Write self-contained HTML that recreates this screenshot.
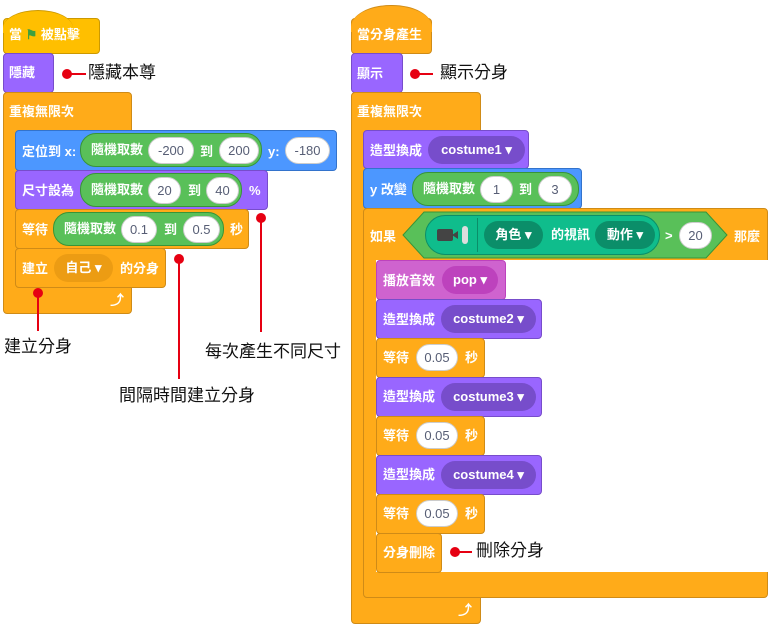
<!DOCTYPE html>
<html><head><meta charset="utf-8"><style>
body{margin:0;width:771px;height:626px;background:#fff;position:relative;overflow:hidden;font-family:"Liberation Sans","Noto Sans CJK TC",sans-serif}
.b{position:absolute;box-sizing:border-box;border-radius:4px}
.t{position:absolute;color:#fff;font-weight:bold;font-size:13px;white-space:nowrap;line-height:16px}
.y{background:#FFBF00;border:1px solid #CC9900}
.p{background:#9966FF;border:1px solid #774DCB}
.o{background:#FFAB19;border:1px solid #CF8B17}
.bl{background:#4C97FF;border:1px solid #3373CC}
.pk{background:#CF63CF;border:1px solid #BD42BD}
.pill{position:absolute;box-sizing:border-box;border-radius:16px;color:#fff;font-weight:bold;font-size:13px;white-space:nowrap;text-align:center;line-height:26px}
.g{background:#59C059;border:1px solid #389438}
.w{background:#fff;color:#575E75;border:1px solid #ccc;font-weight:normal;font-size:13px;line-height:25px;border-radius:14px}
.dot{position:absolute;width:10px;height:10px;border-radius:5px;background:#e60012}
.ln{position:absolute;background:#e60012}
.lab{position:absolute;font-size:17px;color:#111;white-space:nowrap;line-height:20px}
</style></head><body>

<!-- LEFT SCRIPT -->
<div class="b y" style="left:3px;top:18px;width:97px;height:36px"></div>
<div style="position:absolute;left:3px;top:10px;width:70px;height:22px;border-radius:35px 35px 0 0/18px 18px 0 0;background:#FFBF00;border-top:1px solid #CC9900"></div>
<div class="t" style="left:9px;top:27px">當 <span style="color:#3fa03f">⚑</span> 被點擊</div>

<div class="b p" style="left:3px;top:53px;width:51px;height:40px"></div>
<div class="t" style="left:9px;top:65px">隱藏</div>

<div class="b o" style="left:3px;top:92px;width:129px;height:222px"></div>
<div class="t" style="left:9px;top:104px">重複無限次</div>
<div class="t" style="left:110px;top:292px;font-size:14px">⤴</div>

<div class="b bl" style="left:15px;top:130px;width:322px;height:41px"></div>
<div class="t" style="left:22px;top:144px">定位到 x:</div>
<div class="pill g" style="left:80px;top:133px;width:182px;height:34px;line-height:32px;text-align:left;padding-left:10px">隨機取數</div>
<div class="pill w" style="left:148px;top:137px;width:46px;height:27px">-200</div>
<div class="t" style="left:200px;top:144px">到</div>
<div class="pill w" style="left:219px;top:137px;width:40px;height:27px">200</div>
<div class="t" style="left:268px;top:144px">y:</div>
<div class="pill w" style="left:285px;top:137px;width:45px;height:27px">-180</div>

<div class="b p" style="left:15px;top:170px;width:253px;height:40px"></div>
<div class="t" style="left:22px;top:183px">尺寸設為</div>
<div class="pill g" style="left:80px;top:173px;width:162px;height:34px;line-height:32px;text-align:left;padding-left:10px">隨機取數</div>
<div class="pill w" style="left:148px;top:177px;width:33px;height:27px">20</div>
<div class="t" style="left:188px;top:183px">到</div>
<div class="pill w" style="left:206px;top:177px;width:33px;height:27px">40</div>
<div class="t" style="left:249px;top:183px">%</div>

<div class="b o" style="left:15px;top:209px;width:234px;height:40px"></div>
<div class="t" style="left:22px;top:222px">等待</div>
<div class="pill g" style="left:53px;top:212px;width:171px;height:34px;line-height:32px;text-align:left;padding-left:10px">隨機取數</div>
<div class="pill w" style="left:121px;top:216px;width:36px;height:27px">0.1</div>
<div class="t" style="left:164px;top:222px">到</div>
<div class="pill w" style="left:183px;top:216px;width:37px;height:27px">0.5</div>
<div class="t" style="left:230px;top:222px">秒</div>

<div class="b o" style="left:15px;top:248px;width:151px;height:40px"></div>
<div class="t" style="left:22px;top:261px">建立</div>
<div class="pill" style="left:54px;top:254px;width:59px;height:28px;background:#EC9C13;line-height:28px">自己 ▾</div>
<div class="t" style="left:120px;top:261px">的分身</div>

<!-- left annotations -->
<div class="dot" style="left:62px;top:69px"></div><div class="ln" style="left:67px;top:73px;width:19px;height:2px"></div>
<div class="lab" style="left:88px;top:63px">隱藏本尊</div>
<div class="dot" style="left:33px;top:288px"></div><div class="ln" style="left:37px;top:293px;width:2px;height:38px"></div>
<div class="lab" style="left:4px;top:337px">建立分身</div>
<div class="dot" style="left:174px;top:254px"></div><div class="ln" style="left:178px;top:259px;width:2px;height:120px"></div>
<div class="lab" style="left:119px;top:386px">間隔時間建立分身</div>
<div class="dot" style="left:256px;top:213px"></div><div class="ln" style="left:260px;top:218px;width:2px;height:114px"></div>
<div class="lab" style="left:205px;top:342px">每次產生不同尺寸</div>

<!-- RIGHT SCRIPT -->
<div class="b o" style="left:351px;top:18px;width:81px;height:36px"></div>
<div style="position:absolute;left:351px;top:5px;width:81px;height:26px;border-radius:40px 40px 0 0/22px 22px 0 0;background:#FFAB19;border-top:1px solid #CF8B17"></div>
<div class="t" style="left:357px;top:27px">當分身產生</div>

<div class="b p" style="left:351px;top:53px;width:52px;height:40px"></div>
<div class="t" style="left:357px;top:66px">顯示</div>
<div class="dot" style="left:410px;top:69px"></div><div class="ln" style="left:415px;top:73px;width:18px;height:2px"></div>
<div class="lab" style="left:440px;top:63px">顯示分身</div>

<div class="b o" style="left:351px;top:92px;width:130px;height:532px"></div>
<div class="t" style="left:357px;top:104px">重複無限次</div>
<div class="t" style="left:458px;top:602px;font-size:14px">⤴</div>

<div class="b p" style="left:363px;top:130px;width:166px;height:39px"></div>
<div class="t" style="left:370px;top:143px">造型換成</div>
<div class="pill" style="left:428px;top:136px;width:97px;height:28px;background:#774DCB;line-height:28px">costume1 ▾</div>

<div class="b bl" style="left:363px;top:168px;width:219px;height:41px"></div>
<div class="t" style="left:370px;top:182px">y 改變</div>
<div class="pill g" style="left:412px;top:172px;width:167px;height:34px;line-height:32px;text-align:left;padding-left:10px">隨機取數</div>
<div class="pill w" style="left:480px;top:176px;width:33px;height:27px">1</div>
<div class="t" style="left:519px;top:182px">到</div>
<div class="pill w" style="left:538px;top:176px;width:34px;height:27px">3</div>

<div class="b o" style="left:363px;top:208px;width:405px;height:390px"></div>
<div style="position:absolute;left:376px;top:260px;width:392px;height:312px;background:#fff"></div>
<div class="t" style="left:370px;top:229px">如果</div>
<svg style="position:absolute;left:402px;top:211px" width="326" height="48"><polygon points="22,1 304,1 325,24 304,47 22,47 1,24" fill="#59C059" stroke="#389438"/></svg>
<div class="pill" style="left:425px;top:215px;width:235px;height:40px;border-radius:20px;background:#0FBD8C;border:1px solid #0B8E69"></div>
<div style="position:absolute;left:437px;top:229px;width:16px;height:12px;background:#444;border-radius:2px"></div>
<div style="position:absolute;left:452px;top:231px;width:0;height:0;border-top:4px solid transparent;border-bottom:4px solid transparent;border-right:6px solid #444"></div>
<div style="position:absolute;left:462px;top:226px;width:6px;height:18px;background:#ddd;border-radius:3px"></div>
<div style="position:absolute;left:477px;top:218px;width:1px;height:34px;background:#0B8E69"></div>
<div class="pill" style="left:484px;top:221px;width:59px;height:28px;background:#0B8E69;line-height:28px">角色 ▾</div>
<div class="t" style="left:551px;top:227px">的視訊</div>
<div class="pill" style="left:595px;top:221px;width:60px;height:28px;background:#0B8E69;line-height:28px">動作 ▾</div>
<div class="t" style="left:665px;top:228px">&gt;</div>
<div class="pill w" style="left:679px;top:222px;width:33px;height:27px">20</div>
<div class="t" style="left:734px;top:229px">那麼</div>

<div class="b pk" style="left:376px;top:260px;width:130px;height:40px"></div>
<div class="t" style="left:383px;top:273px">播放音效</div>
<div class="pill" style="left:442px;top:266px;width:56px;height:28px;background:#BD42BD;line-height:28px">pop ▾</div>

<div class="b p" style="left:376px;top:299px;width:166px;height:40px"></div>
<div class="t" style="left:383px;top:312px">造型換成</div>
<div class="pill" style="left:441px;top:305px;width:95px;height:28px;background:#774DCB;line-height:28px">costume2 ▾</div>
<div class="b o" style="left:376px;top:338px;width:109px;height:40px"></div>
<div class="t" style="left:383px;top:350px">等待</div>
<div class="pill w" style="left:416px;top:344px;width:42px;height:27px">0.05</div>
<div class="t" style="left:465px;top:350px">秒</div>

<div class="b p" style="left:376px;top:377px;width:166px;height:40px"></div>
<div class="t" style="left:383px;top:389px">造型換成</div>
<div class="pill" style="left:441px;top:383px;width:95px;height:28px;background:#774DCB;line-height:28px">costume3 ▾</div>
<div class="b o" style="left:376px;top:416px;width:109px;height:40px"></div>
<div class="t" style="left:383px;top:428px">等待</div>
<div class="pill w" style="left:416px;top:422px;width:42px;height:27px">0.05</div>
<div class="t" style="left:465px;top:428px">秒</div>

<div class="b p" style="left:376px;top:455px;width:166px;height:40px"></div>
<div class="t" style="left:383px;top:467px">造型換成</div>
<div class="pill" style="left:441px;top:461px;width:95px;height:28px;background:#774DCB;line-height:28px">costume4 ▾</div>
<div class="b o" style="left:376px;top:494px;width:109px;height:40px"></div>
<div class="t" style="left:383px;top:506px">等待</div>
<div class="pill w" style="left:416px;top:500px;width:42px;height:27px">0.05</div>
<div class="t" style="left:465px;top:506px">秒</div>

<div class="b o" style="left:376px;top:533px;width:66px;height:40px"></div>
<div class="t" style="left:383px;top:545px">分身刪除</div>
<div class="dot" style="left:450px;top:547px"></div><div class="ln" style="left:455px;top:551px;width:17px;height:2px"></div>
<div class="lab" style="left:476px;top:541px">刪除分身</div>

</body></html>
